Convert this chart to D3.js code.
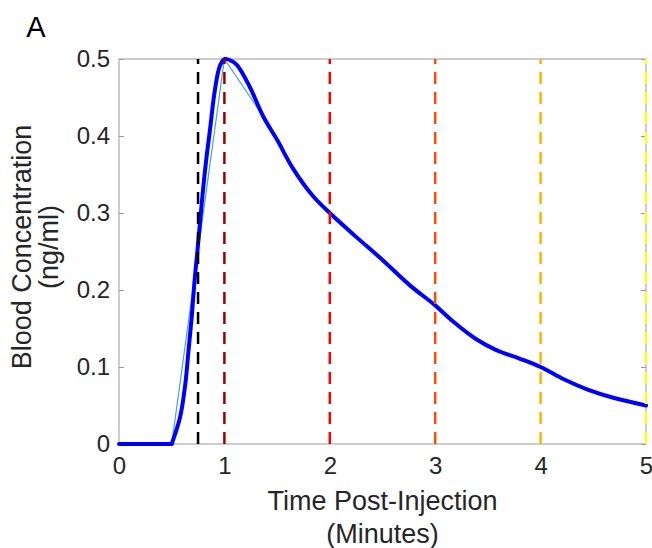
<!DOCTYPE html>
<html>
<head>
<meta charset="utf-8">
<script src="https://cdn.jsdelivr.net/npm/d3@7"></script>
<style>
  html, body { margin: 0; padding: 0; background: #fff; }
  svg { display: block; font-family: "Liberation Sans", Arial, Helvetica, sans-serif; }
</style>
</head>
<body>
<svg id="chart" width="652" height="548"></svg>
<script>
// ---- data ----
const fitTimes = [0, 0.5, 0.58, 0.63, 0.66, 0.69, 0.715, 0.745, 0.77, 0.79, 0.825, 0.865, 0.91, 0.96, 1.005, 1.06, 1.12, 1.24, 1.37, 1.5, 1.65, 1.84, 2.0, 2.25, 2.5, 2.76, 3.0, 3.17, 3.39, 3.58, 3.8, 4.0, 4.22, 4.44, 4.69, 5.0];
const fitConc  = [0, 0, 0.035, 0.079, 0.122, 0.165, 0.209, 0.252, 0.29, 0.32, 0.366, 0.41, 0.46, 0.492, 0.5, 0.498, 0.492, 0.464, 0.425, 0.395, 0.358, 0.322, 0.30, 0.269, 0.239, 0.206, 0.18, 0.159, 0.136, 0.122, 0.111, 0.1, 0.084, 0.071, 0.06, 0.05];
const rawTimes = [0, 0.5, 1.0, 1.37, 1.5, 1.65, 1.84, 2.0, 2.25, 2.5, 2.76, 3.0, 3.17, 3.39, 3.58, 3.8, 4.0, 4.22, 4.44, 4.69, 5.0];
const rawConc  = [0, 0, 0.5, 0.425, 0.395, 0.358, 0.322, 0.30, 0.269, 0.239, 0.206, 0.18, 0.159, 0.136, 0.122, 0.111, 0.1, 0.084, 0.071, 0.06, 0.05];
const markerTimes  = [0.75, 1, 2, 3, 4, 5];
const markerColors = ["#000000", "#9a0000", "#ff0000", "#ff4d00", "#ffb300", "#ffff1a"];
const xTicks = [0, 1, 2, 3, 4, 5];
const yTicks = [0, 0.1, 0.2, 0.3, 0.4, 0.5];

// ---- layout ----
const svg = d3.select("#chart");
const x = d3.scaleLinear().domain([0, 5]).range([119, 646]);
const y = d3.scaleLinear().domain([0, 0.5]).range([444, 59]);
const axisColor = "#9a9a9a";
const textColor = "#262626";

// box
svg.append("rect")
  .attr("x", x(0)).attr("y", y(0.5))
  .attr("width", x(5) - x(0)).attr("height", y(0) - y(0.5))
  .attr("fill", "none").attr("stroke", axisColor).attr("stroke-width", 1);

// left axis (ticks inward)
const gL = svg.append("g").attr("transform", `translate(${x(0)},0)`)
  .call(d3.axisLeft(y).tickValues(yTicks).tickSize(-5).tickPadding(9)
        .tickFormat(d => d === 0 ? "0" : d3.format(".1f")(d)));
gL.select(".domain").remove();
gL.selectAll("line").attr("stroke", axisColor);
gL.selectAll("text").attr("font-size", 24).attr("fill", textColor)
  .attr("font-family", "Liberation Sans, Arial, sans-serif");

// right axis ticks (inward, no labels)
const gR = svg.append("g").attr("transform", `translate(${x(5)},0)`)
  .call(d3.axisRight(y).tickValues(yTicks).tickSize(-5).tickFormat(""));
gR.select(".domain").remove();
gR.selectAll("line").attr("stroke", axisColor);

// bottom axis
const gB = svg.append("g").attr("transform", `translate(0,${y(0)})`)
  .call(d3.axisBottom(x).tickValues(xTicks).tickSize(0).tickPadding(13).tickFormat(d3.format("d")));
gB.select(".domain").remove();
gB.selectAll("text").attr("font-size", 24).attr("fill", textColor)
  .attr("font-family", "Liberation Sans, Arial, sans-serif");

// thin raw line
const line = d3.line().x(d => x(d[0])).y(d => y(d[1]));
svg.append("path")
  .datum(rawTimes.map((t, i) => [t, rawConc[i]]))
  .attr("d", line)
  .attr("fill", "none").attr("stroke", "#4aa0dc").attr("stroke-width", 1.2);

// thick fitted curve: flat baseline until onset, then smooth rise/decay
const fitPts = fitTimes.map((t, i) => [t, fitConc[i]]);
const onset = fitConc.findIndex((c, i) => i > 0 && fitConc[i + 1] > 0);
const smooth = d3.line().x(d => x(d[0])).y(d => y(d[1])).curve(d3.curveCatmullRom.alpha(0.5));
const thick = svg.append("g").attr("fill", "none").attr("stroke", "#0000ff").attr("stroke-width", 4)
  .attr("stroke-linejoin", "round").attr("stroke-linecap", "round");
thick.append("path").datum(fitPts.slice(0, onset + 1)).attr("d", line);
thick.append("path").datum(fitPts.slice(onset)).attr("d", smooth);

// vertical dashed markers
svg.append("g").selectAll("line")
  .data(markerTimes)
  .join("line")
  .attr("x1", d => x(d)).attr("x2", d => x(d))
  .attr("y1", y(0)).attr("y2", y(0.5))
  .attr("stroke", (d, i) => markerColors[i])
  .attr("stroke-width", 2.5)
  .attr("stroke-dasharray", "12,8");

// axis labels
const xl = svg.append("text")
  .attr("text-anchor", "middle").attr("font-size", 27).attr("fill", textColor);
xl.append("tspan").attr("x", (x(0) + x(5)) / 2).attr("y", 510).text("Time Post-Injection");
xl.append("tspan").attr("x", (x(0) + x(5)) / 2).attr("y", 543).text("(Minutes)");

const yl = svg.append("text")
  .attr("text-anchor", "middle").attr("font-size", 27).attr("fill", textColor)
  .attr("transform", "translate(31,247) rotate(-90)");
yl.append("tspan").attr("x", 0).attr("y", 0).text("Blood Concentration");
yl.append("tspan").attr("x", 0).attr("y", 27).text("(ng/ml)");

// panel letter
svg.append("text").attr("x", 36).attr("y", 37).attr("text-anchor", "middle")
  .attr("font-size", 29).attr("fill", "#000").text("A");
</script>
</body>
</html>
